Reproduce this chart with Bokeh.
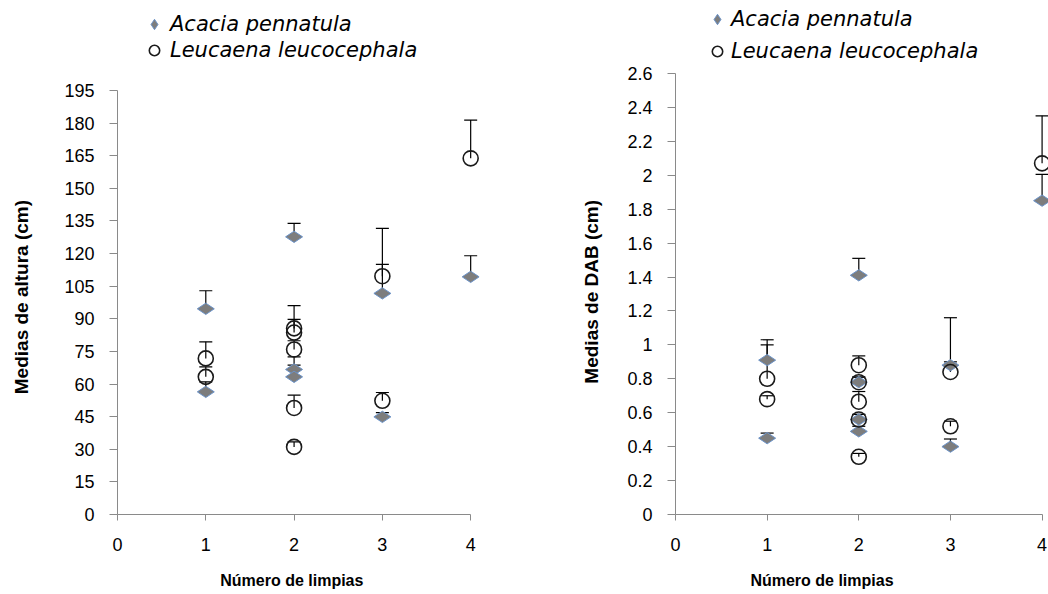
import math
from bokeh.plotting import figure
from bokeh.layouts import row
from bokeh.models import (ColumnDataSource, Whisker, TeeHead, FixedTicker, Legend,
                          LegendItem, Range1d, NumeralTickFormatter)
from bokeh.embed import file_html
from bokeh.resources import INLINE

# ---------------- data ----------------
x_ticks = [0, 1, 2, 3, 4]
species = ["Acacia pennatula", "Leucaena leucocephala"]

# Left chart: Medias de altura (cm)
acacia_x_h = [1, 1, 2, 2, 2, 3, 3, 4]
acacia_h = [94.6, 56.4, 127.7, 66.7, 63.3, 101.7, 44.9, 109.3]
acacia_h_err = [8.3, 4.6, 6.2, 5.8, 5.4, 13.3, 2.0, 9.7]

leuc_x_h = [1, 1, 2, 2, 2, 2, 2, 3, 3, 4]
leuc_h = [71.8, 63.3, 85.6, 83.7, 75.9, 49.0, 31.1, 109.6, 52.3, 163.8]
leuc_h_err = [7.6, 4.6, 10.5, 6.0, 4.0, 5.9, 2.3, 22.0, 3.8, 17.6]

h_ticks = [0, 15, 30, 45, 60, 75, 90, 105, 120, 135, 150, 165, 180, 195]
h_axis_max = 195

# Right chart: Medias de DAB (cm)
acacia_x_d = [1, 1, 2, 2, 2, 2, 3, 3, 4]
acacia_d = [0.91, 0.45, 1.41, 0.78, 0.56, 0.49, 0.88, 0.40, 1.85]
acacia_d_err = [0.12, 0.03, 0.10, 0.03, 0.03, 0.03, 0.02, 0.045, 0.155]

leuc_x_d = [1, 1, 2, 2, 2, 2, 2, 3, 3, 4]
leuc_d = [0.80, 0.68, 0.88, 0.78, 0.665, 0.56, 0.34, 0.84, 0.52, 2.07]
leuc_d_err = [0.20, 0.02, 0.055, 0.03, 0.06, 0.03, 0.02, 0.32, 0.03, 0.28]

d_ticks = [0, 0.2, 0.4, 0.6, 0.8, 1, 1.2, 1.4, 1.6, 1.8, 2, 2.2, 2.4, 2.6]
d_axis_max = 2.6

x_title = "Número de limpias"
y_titles = ["Medias de altura (cm)", "Medias de DAB (cm)"]

# ---------------- styling ----------------
AXIS_COL = "#8a8a8a"
DIAMOND_FILL = "#7d7d7d"
DIAMOND_LINE = "#6b93c9"
TICK_FONT = "Liberation Sans"
NBSP = "\u00a0"
H = 594


def build(xa, ya, ea, xl, yl, el, y_axis_max, y_view_max, y_ticks, width, b_left,
          b_right, frame_h, x_end, y_title, y_title_standoff, y_pad, x_pad,
          leg_loc, leg_spacing, leg_standoff, fmt=None):
    p = figure(width=width, height=H, output_backend="svg", toolbar_location=None,
               title=None,
               x_range=Range1d(0, x_end), y_range=Range1d(0, y_view_max),
               min_border_left=b_left, min_border_right=b_right,
               min_border_top=0, min_border_bottom=H - frame_h)
    p.outline_line_color = None
    p.grid.visible = False
    p.background_fill_color = "white"
    p.border_fill_color = "white"

    src_a = ColumnDataSource(dict(x=xa, y=ya, top=[v + e for v, e in zip(ya, ea)]))
    src_l = ColumnDataSource(dict(x=xl, y=yl, top=[v + e for v, e in zip(yl, el)]))

    r_a = p.scatter("x", "y", source=src_a, marker="diamond", size=17, angle=math.pi / 2,
                    fill_color=DIAMOND_FILL, line_color=DIAMOND_LINE, line_width=1)
    r_l = p.scatter("x", "y", source=src_l, marker="circle", size=15,
                    fill_color=None, line_color="#1a1a1a", line_width=1.6)

    for src in (src_a, src_l):
        w = Whisker(source=src, base="x", lower="y", upper="top", dimension="height",
                    upper_head=TeeHead(size=13, line_color="black", line_width=1.2),
                    lower_head=None, line_color="black", line_width=1.2)
        p.add_layout(w)

    # axes
    for ax in (p.xaxis[0], p.yaxis[0]):
        ax.axis_line_color = AXIS_COL
        ax.major_tick_line_color = AXIS_COL
        ax.minor_tick_line_color = None
        ax.major_tick_in = 0
        ax.major_label_text_font = TICK_FONT
        ax.major_label_text_font_size = "18px"
        ax.major_label_text_color = "black"
        ax.axis_label_text_font = "Liberation Sans"
        ax.axis_label_text_font_style = "bold"
        ax.axis_label_text_color = "black"

    xa_ = p.xaxis[0]
    xa_.ticker = FixedTicker(ticks=x_ticks)
    xa_.bounds = (0, 4)
    xa_.major_tick_out = 6
    xa_.major_label_standoff = 17
    # trailing no-break spaces nudge the centred title to the reference's position
    xa_.axis_label = x_title + NBSP * x_pad
    xa_.axis_label_text_font_size = "16px"
    xa_.axis_label_standoff = 18

    ya_ = p.yaxis[0]
    ya_.ticker = FixedTicker(ticks=y_ticks)
    ya_.bounds = (0, y_axis_max)
    ya_.major_tick_out = 8
    ya_.major_label_standoff = 15
    ya_.axis_label = y_title + NBSP * y_pad
    ya_.axis_label_text_font_size = "19px"
    ya_.axis_label_standoff = y_title_standoff
    if fmt is not None:
        ya_.formatter = fmt

    legend = Legend(items=[LegendItem(label=species[0], renderers=[r_a]),
                           LegendItem(label=species[1], renderers=[r_l])],
                    location=leg_loc, orientation="vertical",
                    glyph_width=28, glyph_height=26, label_height=26,
                    spacing=leg_spacing, padding=0, margin=0,
                    label_standoff=leg_standoff,
                    border_line_color=None, background_fill_alpha=0,
                    label_text_font="DejaVu Sans", label_text_font_style="italic",
                    label_text_font_size="21px", label_text_color="black")
    p.add_layout(legend)
    return p


# left: frame from y=0 (px) to 514; axis value 195 sits at px 90
p1 = build(acacia_x_h, acacia_h, acacia_h_err, leuc_x_h, leuc_h, leuc_h_err,
           h_axis_max, 236.4, h_ticks, width=500, b_left=117, b_right=21, frame_h=514,
           x_end=4.1, y_title=y_titles[0], y_title_standoff=29, y_pad=15, x_pad=3,
           leg_loc=(23, 451), leg_spacing=0, leg_standoff=2)

# right: frame from y=0 to 517; axis value 2.6 sits at px 73
p2 = build(acacia_x_d, acacia_d, acacia_d_err, leuc_x_d, leuc_d, leuc_d_err,
           d_axis_max, 3.03, d_ticks, width=548, b_left=175, b_right=0, frame_h=517,
           x_end=4.07, y_title=y_titles[1], y_title_standoff=22, y_pad=13, x_pad=18,
           leg_loc=(28, 450), leg_spacing=6, leg_standoff=0,
           fmt=NumeralTickFormatter(format="0.[0]"))

layout = row(p1, p2, spacing=0)
open("out.html", "w").write(file_html(layout, INLINE))
